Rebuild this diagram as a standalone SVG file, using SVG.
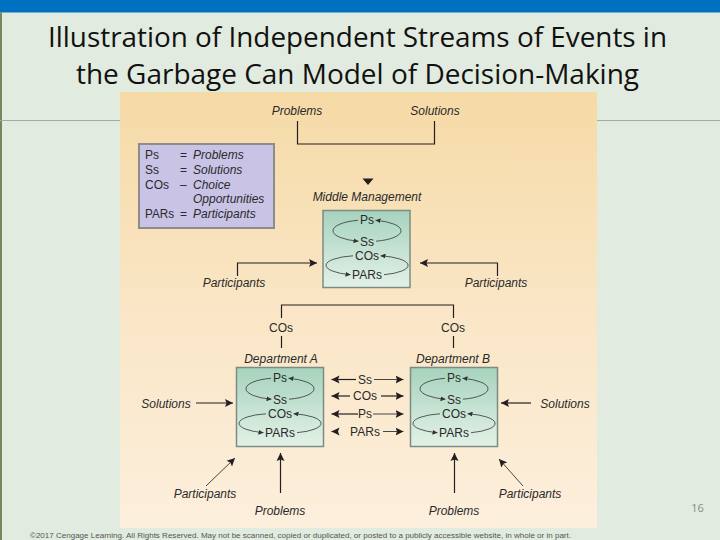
<svg xmlns="http://www.w3.org/2000/svg" width="720" height="540" viewBox="0 0 720 540">
<defs>
<style>
.title{font-family:"Open Sans","Noto Sans",sans-serif;font-size:28px;fill:#111;text-anchor:middle}
.lbl{font-family:"Liberation Sans",Arial,sans-serif;font-size:12px;font-style:italic;fill:#2a2a2a;text-anchor:middle}
.abbr{font-family:"Liberation Sans",Arial,sans-serif;font-size:12px;fill:#2a2a2a;text-anchor:middle}
.leg{font-family:"Liberation Sans",Arial,sans-serif;font-size:12px;fill:#2a2a2a}
.legi{font-family:"Liberation Sans",Arial,sans-serif;font-size:12px;font-style:italic;fill:#2a2a2a}
.ln{stroke:#231F20;stroke-width:1.2;fill:none}
.thin{stroke:#333;stroke-width:0.9;fill:none}
.loop{stroke:#333;stroke-width:0.8;fill:none}
.box{fill:url(#green);stroke:#7C8C84;stroke-width:1.5}
</style>
<linearGradient id="tan" x1="0" y1="0" x2="0" y2="1">
<stop offset="0" stop-color="#F6DAA6"/>
<stop offset="0.5" stop-color="#FAE6C6"/>
<stop offset="1" stop-color="#FCEFDC"/>
</linearGradient>
<linearGradient id="green" x1="0" y1="0" x2="0" y2="1">
<stop offset="0" stop-color="#A6D3BD"/>
<stop offset="1" stop-color="#E3F1E7"/>
</linearGradient>
<marker id="ah" markerUnits="userSpaceOnUse" markerWidth="9" markerHeight="9" refX="8" refY="4.5" orient="auto" viewBox="0 0 9 9">
<path d="M0,0.5 L8,4.5 L0,8.5 L1.5,4.5 z" fill="#231F20"/>
</marker>
<marker id="sa" markerUnits="userSpaceOnUse" markerWidth="5" markerHeight="5" refX="5" refY="2.5" orient="auto" viewBox="0 0 5 5">
<path d="M0,0 L5,2.5 L0,5 z" fill="#333"/>
</marker>
</defs>

<!-- slide background -->
<rect x="0" y="0" width="720" height="540" fill="#E2EBDF"/>
<rect x="0" y="0" width="720" height="12.5" fill="#0070C0"/>
<rect x="0" y="12.5" width="2" height="527.5" fill="#7A8560"/>
<line x1="0" y1="120.5" x2="720" y2="120.5" stroke="#A3AAA2" stroke-width="1"/>

<text class="title" x="357.5" y="47" textLength="619" lengthAdjust="spacingAndGlyphs">Illustration of Independent Streams of Events in</text>
<text class="title" x="357.5" y="84" textLength="563" lengthAdjust="spacingAndGlyphs">the Garbage Can Model of Decision-Making</text>

<!-- figure panel -->
<rect x="120" y="92" width="477" height="436" fill="url(#tan)"/>

<!-- legend -->
<g id="legend">
<rect x="139" y="144" width="135" height="84" fill="#C9C3E6" stroke="#8C8C8C" stroke-width="2"/>
<text class="leg" x="145" y="159">Ps</text>
<text class="leg" x="145" y="174">Ss</text>
<text class="leg" x="145" y="189">COs</text>
<text class="leg" x="145" y="218" textLength="29" lengthAdjust="spacingAndGlyphs">PARs</text>
<text class="leg" x="180" y="159">=</text>
<text class="leg" x="180" y="174">=</text>
<text class="leg" x="180" y="189">–</text>
<text class="leg" x="180" y="218">=</text>
<text class="legi" x="193" y="159">Problems</text>
<text class="legi" x="193" y="174">Solutions</text>
<text class="legi" x="193" y="189">Choice</text>
<text class="legi" x="193" y="203">Opportunities</text>
<text class="legi" x="193" y="218">Participants</text>
</g>

<!-- input labels -->
<g id="problems-top"><text class="lbl" x="297" y="115">Problems</text></g>
<g id="solutions-top"><text class="lbl" x="435" y="115">Solutions</text></g>
<g id="participants-left-top"><text class="lbl" x="234" y="287">Participants</text></g>
<g id="participants-right-top"><text class="lbl" x="496" y="287">Participants</text></g>
<g id="cos-left"><text class="abbr" x="281" y="331.5">COs</text></g>
<g id="cos-right"><text class="abbr" x="453" y="331.5">COs</text></g>
<g id="solutions-left"><text class="lbl" x="166" y="407.5">Solutions</text></g>
<g id="solutions-right"><text class="lbl" x="565" y="407.5">Solutions</text></g>
<g id="participants-left-bottom"><text class="lbl" x="205" y="497.5">Participants</text></g>
<g id="participants-right-bottom"><text class="lbl" x="530" y="497.5">Participants</text></g>
<g id="problems-left-bottom"><text class="lbl" x="280" y="514.5">Problems</text></g>
<g id="problems-right-bottom"><text class="lbl" x="454" y="514.5">Problems</text></g>

<!-- middle management -->
<g id="middle-management">
<text class="lbl" x="367" y="201">Middle Management</text>
<rect class="box" x="323" y="210.5" width="87" height="77"/>
<g transform="translate(367,220)">
<text class="abbr" x="0" y="4.3">Ps</text>
<text class="abbr" x="0" y="25.8">Ss</text>
<text class="abbr" x="0" y="39.8">COs</text>
<text class="abbr" x="0" y="59.3">PARs</text>
<path class="loop" d="M-9,0.3 A33,10.75 0 0 0 -8.5,21.2" marker-end="url(#sa)"/>
<path class="loop" d="M9,21.2 A33,10.75 0 0 0 8.5,0.3" marker-end="url(#sa)"/>
<path class="loop" d="M-14,35.8 A34,9.75 0 0 0 -16.5,54.7" marker-end="url(#sa)"/>
<path class="loop" d="M17,54.7 A34,9.75 0 0 0 13.5,35.8" marker-end="url(#sa)"/>
</g>
</g>

<!-- department A -->
<g id="department-a">
<text class="lbl" x="281" y="363">Department A</text>
<rect class="box" x="236.5" y="367.5" width="87" height="79"/>
<g transform="translate(280,378)">
<text class="abbr" x="0" y="4.3">Ps</text>
<text class="abbr" x="0" y="25.8">Ss</text>
<text class="abbr" x="0" y="39.8">COs</text>
<text class="abbr" x="0" y="59.3">PARs</text>
<path class="loop" d="M-9,0.3 A33,10.75 0 0 0 -8.5,21.2" marker-end="url(#sa)"/>
<path class="loop" d="M9,21.2 A33,10.75 0 0 0 8.5,0.3" marker-end="url(#sa)"/>
<path class="loop" d="M-14,35.8 A34,9.75 0 0 0 -16.5,54.7" marker-end="url(#sa)"/>
<path class="loop" d="M17,54.7 A34,9.75 0 0 0 13.5,35.8" marker-end="url(#sa)"/>
</g>
</g>

<!-- department B -->
<g id="department-b">
<text class="lbl" x="453" y="363">Department B</text>
<rect class="box" x="410.5" y="367.5" width="87" height="79"/>
<g transform="translate(454,378)">
<text class="abbr" x="0" y="4.3">Ps</text>
<text class="abbr" x="0" y="25.8">Ss</text>
<text class="abbr" x="0" y="39.8">COs</text>
<text class="abbr" x="0" y="59.3">PARs</text>
<path class="loop" d="M-9,0.3 A33,10.75 0 0 0 -8.5,21.2" marker-end="url(#sa)"/>
<path class="loop" d="M9,21.2 A33,10.75 0 0 0 8.5,0.3" marker-end="url(#sa)"/>
<path class="loop" d="M-14,35.8 A34,9.75 0 0 0 -16.5,54.7" marker-end="url(#sa)"/>
<path class="loop" d="M17,54.7 A34,9.75 0 0 0 13.5,35.8" marker-end="url(#sa)"/>
</g>
</g>

<!-- exchange labels between departments -->
<g id="exchange">
<text class="abbr" x="365" y="383.8">Ss</text>
<text class="abbr" x="365" y="400.3">COs</text>
<text class="abbr" x="365" y="418.3">Ps</text>
<text class="abbr" x="365" y="435.8">PARs</text>
</g>

<!-- connectors -->
<g id="connectors">
<polyline class="ln" points="297.5,121 297.5,144 434.5,144 434.5,121"/>
<polygon points="362.5,178.5 373.5,178.5 368,185" fill="#231F20"/>
<polyline class="ln" points="237.5,276 237.5,263 317,263" marker-end="url(#ah)"/>
<polyline class="ln" points="497.5,276 497.5,263 420,263" marker-end="url(#ah)"/>
<polyline class="ln" points="281.5,318 281.5,305 453.5,305 453.5,318"/>
<line class="ln" x1="281.5" y1="336" x2="281.5" y2="348"/>
<line class="ln" x1="453.5" y1="336" x2="453.5" y2="348"/>
<line class="ln" x1="196" y1="403" x2="233" y2="403" marker-end="url(#ah)"/>
<line class="ln" x1="531" y1="403" x2="501" y2="403" marker-end="url(#ah)"/>
<line class="ln" x1="356" y1="379.5" x2="331.5" y2="379.5" marker-end="url(#ah)"/>
<line class="thin" x1="374" y1="379.5" x2="403.5" y2="379.5" marker-end="url(#ah)"/>
<line class="ln" x1="350" y1="396" x2="331.5" y2="396" marker-end="url(#ah)"/>
<line class="ln" x1="381" y1="396" x2="403.5" y2="396" marker-end="url(#ah)"/>
<line class="ln" x1="358" y1="414" x2="331.5" y2="414" marker-end="url(#ah)"/>
<line class="thin" x1="373" y1="414" x2="403.5" y2="414" marker-end="url(#ah)"/>
<line class="ln" x1="337" y1="431.5" x2="331.5" y2="431.5" marker-end="url(#ah)"/>
<line class="thin" x1="383" y1="431.5" x2="403.5" y2="431.5" marker-end="url(#ah)"/>
<line class="thin" x1="206" y1="486" x2="235" y2="458" marker-end="url(#ah)"/>
<line class="ln" x1="280.5" y1="493" x2="280.5" y2="453" marker-end="url(#ah)"/>
<line class="ln" x1="454.5" y1="493" x2="454.5" y2="453" marker-end="url(#ah)"/>
<line class="thin" x1="523" y1="486" x2="499" y2="459" marker-end="url(#ah)"/>
</g>

<!-- footer -->
<text x="30" y="538" font-family="'Liberation Sans',Arial,sans-serif" font-size="6.5" fill="#555" textLength="541" lengthAdjust="spacingAndGlyphs">©2017 Cengage Learning. All Rights Reserved. May not be scanned, copied or duplicated, or posted to a publicly accessible website, in whole or in part.</text>
<text x="697.5" y="512" font-family="'Open Sans','Noto Sans',sans-serif" font-size="11" fill="#8A8A8A" text-anchor="middle">16</text>
</svg>
